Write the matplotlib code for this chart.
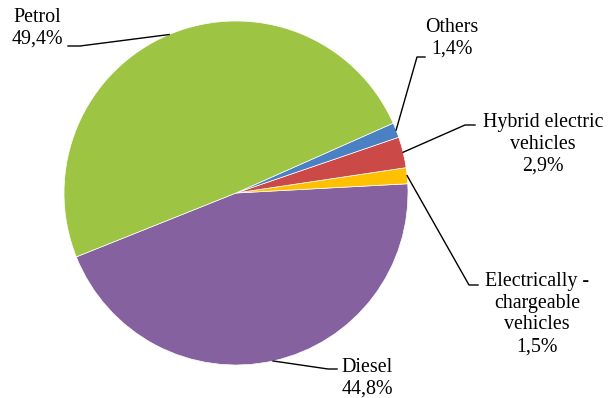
import numpy as np
import matplotlib.pyplot as plt

plt.rcParams['font.family'] = ['Liberation Serif', 'DejaVu Serif']

# share of new passenger cars by fuel type
fuels = ['Diesel', 'Electrically -\nchargeable\nvehicles', 'Hybrid electric\nvehicles', 'Others', 'Petrol']
shares = [44.8, 1.5, 2.9, 1.4, 49.4]
colors = ['#8561A0', '#FFC000', '#CB4A47', '#4A80C4', '#9EC443']

W, H = 609, 398
CX, CY, R = 236, 193, 172


def px(x, y):
    # pixel position -> data units of the pie (radius 1)
    return (x - CX) / R, (CY - y) / R


fig = plt.figure(figsize=(W / 100, H / 100), dpi=100)
ax = fig.add_axes([0, 0, 1, 1])
wedges, _ = ax.pie(shares, colors=colors, startangle=201.8, counterclock=True,
                   wedgeprops=dict(edgecolor='white', linewidth=0.5))
ax.set_xlim(-CX / R, (W - CX) / R)
ax.set_ylim((CY - H) / R, CY / R)
ax.set_aspect('equal')
ax.axis('off')

# label centre, elbow point and line end (pixels)
layout = [
    ((367, 378), (328, 369), (337, 369)),
    ((537, 314), (469, 285), (478, 285)),
    ((543, 144), (465, 125), (475, 125)),
    ((452, 38), (417, 57), (425, 57)),
    ((37, 28), (80, 46), (68, 46)),
]

for w, name, val, (tpos, elbow, end) in zip(wedges, fuels, shares, layout):
    ang = np.deg2rad((w.theta1 + w.theta2) / 2)
    ax0, ay0 = np.cos(ang), np.sin(ang)
    ex, ey = px(*elbow)
    nx, ny = px(*end)
    ax.plot([ax0, ex, nx], [ay0, ey, ny], color='black', lw=1)
    label = name + '\n' + f'{val:.1f}%'.replace('.', ',')
    ax.text(*px(*tpos), label, ha='center', va='center', fontsize=14.4,
            multialignment='center', linespacing=1.2)

fig.savefig('out.png', dpi=100)
